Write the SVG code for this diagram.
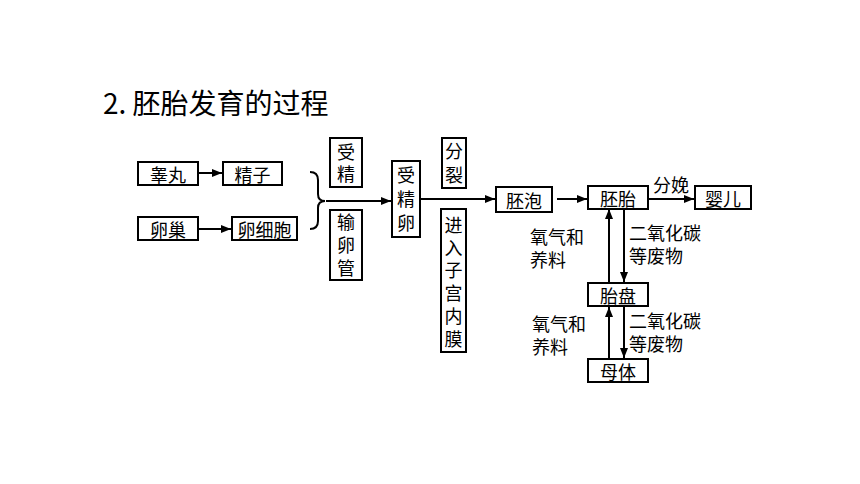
<svg xmlns="http://www.w3.org/2000/svg" width="860" height="484" viewBox="0 0 860 484">
<defs>
<style>
.bx{fill:#fff;stroke:#000;stroke-width:2}
.t{font-family:"Noto Sans CJK SC","Noto Sans",sans-serif;font-size:18px;fill:#000;text-anchor:middle;dominant-baseline:central}
.v{font-family:"Noto Sans CJK SC","Noto Sans",sans-serif;font-size:18px;fill:#000;text-anchor:middle;writing-mode:vertical-rl;text-orientation:upright}
.l{font-family:"Liberation Sans","Noto Sans CJK SC",sans-serif;font-size:18px;fill:#000;dominant-baseline:central}
.ln{fill:none;stroke:#000;stroke-width:2}
</style>
<marker id="ah" viewBox="0 0 10 10" refX="10" refY="5" markerWidth="10" markerHeight="10" markerUnits="userSpaceOnUse" orient="auto">
<path d="M0,1 L10,5 L0,9 Z" fill="#000"/>
</marker>
</defs>
<rect width="860" height="484" fill="#fff"/>
<text x="103" y="114" style="font-family:'Noto Sans CJK SC','Noto Sans',sans-serif;font-size:28px;fill:#000">2. 胚胎发育的过程</text>

<g id="connectors">
<line class="ln" x1="198" y1="173" x2="222" y2="173" marker-end="url(#ah)"/>
<line class="ln" x1="198" y1="229" x2="231" y2="229" marker-end="url(#ah)"/>
<path class="ln" d="M310,172 Q318,172 318,180 L318,194 Q318,201 325,201 Q318,201 318,208 L318,221 Q318,229 310,229"/>
<line class="ln" x1="326" y1="201" x2="391" y2="201" marker-end="url(#ah)"/>
<line class="ln" x1="420" y1="199" x2="495" y2="199" marker-end="url(#ah)"/>
<line class="ln" x1="557" y1="199" x2="587" y2="199" marker-end="url(#ah)"/>
<line class="ln" x1="648" y1="199" x2="694" y2="199" marker-end="url(#ah)"/>
<line class="ln" x1="609" y1="283" x2="609" y2="209" marker-end="url(#ah)"/>
<line class="ln" x1="624" y1="208" x2="624" y2="282" marker-end="url(#ah)"/>
<line class="ln" x1="609" y1="359" x2="609" y2="307" marker-end="url(#ah)"/>
<line class="ln" x1="624" y1="306" x2="624" y2="358" marker-end="url(#ah)"/>
</g>

<g id="n-gaowan"><rect class="bx" x="138" y="162" width="60" height="23"/><text class="t" x="168" y="173.5">睾丸</text></g>
<g id="n-jingzi"><rect class="bx" x="223" y="162" width="59" height="23"/><text class="t" x="252.5" y="173.5">精子</text></g>
<g id="n-luanchao"><rect class="bx" x="138" y="217" width="60" height="23"/><text class="t" x="168" y="228.5">卵巢</text></g>
<g id="n-luanxibao"><rect class="bx" x="232" y="217" width="65" height="23"/><text class="t" x="264.5" y="228.5">卵细胞</text></g>

<g id="n-shoujing"><rect class="bx" x="330" y="138" width="32" height="49"/>
<text class="v" x="346" y="165" letter-spacing="4">受精</text></g>
<g id="n-shuluanguan"><rect class="bx" x="330" y="210" width="32" height="70"/>
<text class="v" x="346" y="247.5" letter-spacing="5">输卵管</text></g>

<g id="n-shoujingluan"><rect class="bx" x="392" y="161" width="28" height="76"/>
<text class="v" x="406" y="202" letter-spacing="6">受精卵</text></g>

<g id="n-fenlie"><rect class="bx" x="442" y="138" width="24" height="50"/>
<text class="v" x="454" y="166" letter-spacing="6">分裂</text></g>
<g id="n-jinru"><rect class="bx" x="441" y="209" width="25" height="143"/>
<text class="v" x="453.5" y="284.4" letter-spacing="4.8">进入子宫内膜</text></g>

<g id="n-peipao"><rect class="bx" x="496" y="187" width="56" height="25"/><text class="t" x="524" y="199.5">胚泡</text></g>
<g id="n-peitai"><rect class="bx" x="588" y="186" width="60" height="23"/><text class="t" x="618" y="197.5">胚胎</text></g>
<g id="n-yinger"><rect class="bx" x="695" y="186" width="56" height="23"/><text class="t" x="723" y="197.5">婴儿</text></g>
<g id="n-taipan"><rect class="bx" x="588" y="283" width="60" height="23"/><text class="t" x="618" y="294.5">胎盘</text></g>
<g id="n-muti"><rect class="bx" x="588" y="359" width="60" height="23"/><text class="t" x="618" y="370.5">母体</text></g>

<g id="labels">
<text class="l" x="653" y="186">分娩</text>
<text class="l" x="530" y="238">氧气和<tspan x="530" dy="23">养料</tspan></text>
<text class="l" x="629" y="234">二氧化碳<tspan x="629" dy="23">等废物</tspan></text>
<text class="l" x="532" y="325">氧气和<tspan x="532" dy="23">养料</tspan></text>
<text class="l" x="629" y="322">二氧化碳<tspan x="629" dy="23">等废物</tspan></text>
</g>
</svg>
